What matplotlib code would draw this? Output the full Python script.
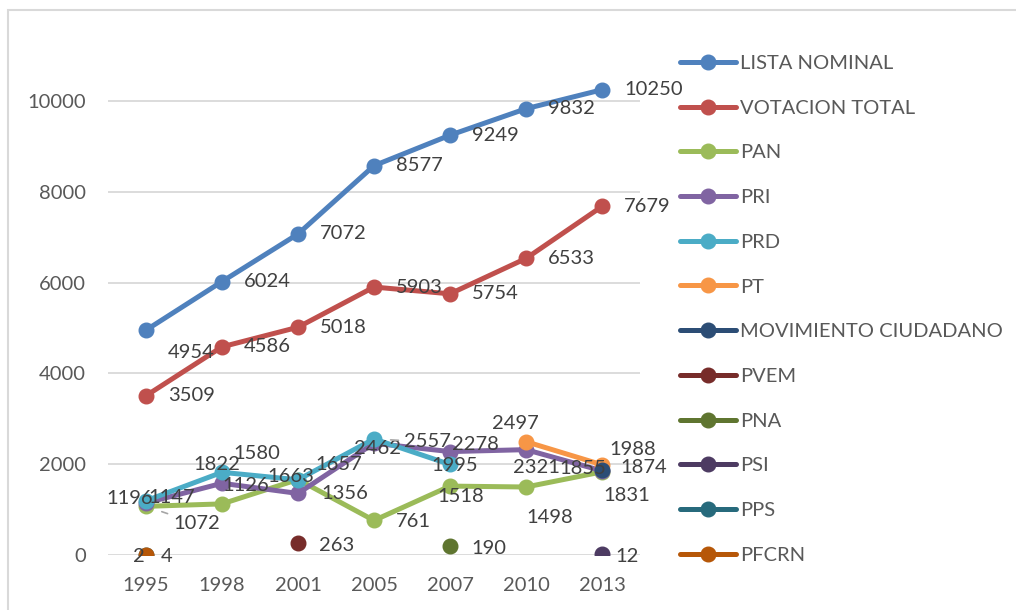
import numpy as np
import matplotlib
matplotlib.use("Agg")
import matplotlib.pyplot as plt
from matplotlib.patches import Rectangle

years = ["1995", "1998", "2001", "2005", "2007", "2010", "2013"]
N = None
lista_nominal = [4954, 6024, 7072, 8577, 9249, 9832, 10250]
votacion_total = [3509, 4586, 5018, 5903, 5754, 6533, 7679]
pan = [1072, 1126, 1663, 761, 1518, 1498, 1831]
pri = [1147, 1580, 1356, 2462, 2278, 2321, 1855]
prd = [1196, 1822, 1657, 2557, 1995, N, N]
pt = [N, N, N, N, N, 2497, 1988]
mc = [N, N, N, N, N, N, 1874]
pvem = [N, N, 263, N, N, N, N]
pna = [N, N, N, N, 190, N, N]
psi = [N, N, N, N, N, N, 12]
pps = [2, N, N, N, N, N, N]
pfcrn = [4, N, N, N, N, N, N]

series_names = ["LISTA NOMINAL", "VOTACION TOTAL", "PAN", "PRI", "PRD", "PT",
                "MOVIMIENTO CIUDADANO", "PVEM", "PNA", "PSI", "PPS", "PFCRN"]
series_values = [lista_nominal, votacion_total, pan, pri, prd, pt, mc, pvem,
                 pna, psi, pps, pfcrn]
colors = ["#4F81BD", "#C0504D", "#9BBB59", "#8064A2", "#4BACC6", "#F79646",
          "#2C4D75", "#772C2A", "#5F7530", "#4D3B62", "#276A7C", "#B65708"]

# label offsets (pixels, dx right, dy down) for labels not at default position
default_off = (22, 0)
label_offsets = {
    ("LISTA NOMINAL", 0): (22, 22),
    ("PRD", 0): (-40, -2), ("PRI", 0): (2, -5), ("PAN", 0): (27, 17),
    ("PRD", 1): (-29, -8), ("PRI", 1): (11, -30), ("PAN", 1): (0, -18),
    ("PAN", 2): (-31, -3), ("PRD", 2): (17, -15), ("PRI", 2): (23, 0),
    ("PRI", 3): (-20, 5), ("PRD", 3): (30, 3), ("PAN", 3): (22, 1),
    ("PRI", 4): (2, -7), ("PRD", 4): (-19, 1), ("PAN", 4): (-13, 10),
    ("PNA", 4): (21, 2),
    ("PT", 5): (-34, -18), ("PRI", 5): (-13, 18), ("PAN", 5): (0, 30),
    ("PT", 6): (7, -15), ("MOVIMIENTO CIUDADANO", 6): (18, -2),
    ("PRI", 6): (-43, -2), ("PAN", 6): (1, 24),
    ("PVEM", 2): (21, 2), ("PSI", 6): (13, 2),
    ("PFCRN", 0): (15, 2), ("PPS", 0): (-13, 2),
}
leaders = {("PAN", 0), ("PRD", 3)}

FONT = "Lato"
TXT = "#595959"
LBL = "#404040"
FS = 14.5
px = 0.72  # points per pixel at dpi 100

fig = plt.figure(figsize=(10.16, 6.10), dpi=100)
W, H = 1016, 610
ax = fig.add_axes([108 / W, 1 - 555 / H, (640 - 108) / W, (555 - 33) / H])

x = np.arange(len(years))
handles = []
for name, vals, c in zip(series_names, series_values, colors):
    y = np.array([np.nan if v is None else v for v in vals], dtype=float)
    h, = ax.plot(x, y, color=c, lw=3.6, marker="o", ms=10.5,
                 solid_capstyle="round", label=name, zorder=3)
    handles.append(h)
    for i, v in enumerate(vals):
        if v is None:
            continue
        dx, dy = label_offsets.get((name, i), default_off)
        if (name, i) in leaders:
            ax.annotate(str(v), xy=(x[i], v), xytext=(dx * px, -dy * px),
                        textcoords="offset points", ha="left", va="center",
                        fontsize=FS, family=FONT, color=LBL, zorder=5,
                        arrowprops=dict(arrowstyle="-", color="#A6A6A6",
                                        lw=1.2, shrinkA=2, shrinkB=12))
        else:
            ax.annotate(str(v), xy=(x[i], v), xytext=(dx * px, -dy * px),
                        textcoords="offset points", ha="left", va="center",
                        fontsize=FS, family=FONT, color=LBL, zorder=5)

ax.set_xlim(-0.5, len(years) - 0.5)
ax.set_ylim(0, 11500)
ax.set_yticks(np.arange(0, 10001, 2000))
ax.set_xticks(x)
ax.set_xticklabels(years)
ax.grid(axis="y", color="#D9D9D9", lw=1.3, zorder=0)
for s in ax.spines.values():
    s.set_visible(False)
ax.tick_params(axis="both", length=0, labelsize=FS, labelcolor=TXT)
ax.tick_params(axis="y", pad=16)
ax.tick_params(axis="x", pad=16)
for lab in ax.get_xticklabels() + ax.get_yticklabels():
    lab.set_family(FONT)

leg = fig.legend(handles=handles, loc="upper left",
                 bbox_to_anchor=(680 / W, 1 - 55 / H), frameon=False,
                 prop={"family": FONT, "size": FS}, labelcolor=TXT,
                 handlelength=2.8, handletextpad=0.2, labelspacing=1.37,
                 borderaxespad=0, borderpad=0)

fig.patches.append(Rectangle((8 / W, -0.1), 1.2, 1 - 10 / H + 0.1,
                             transform=fig.transFigure, fill=False,
                             edgecolor="#D9D9D9", lw=1.5))

fig.savefig("out.png", dpi=100, facecolor="white")
